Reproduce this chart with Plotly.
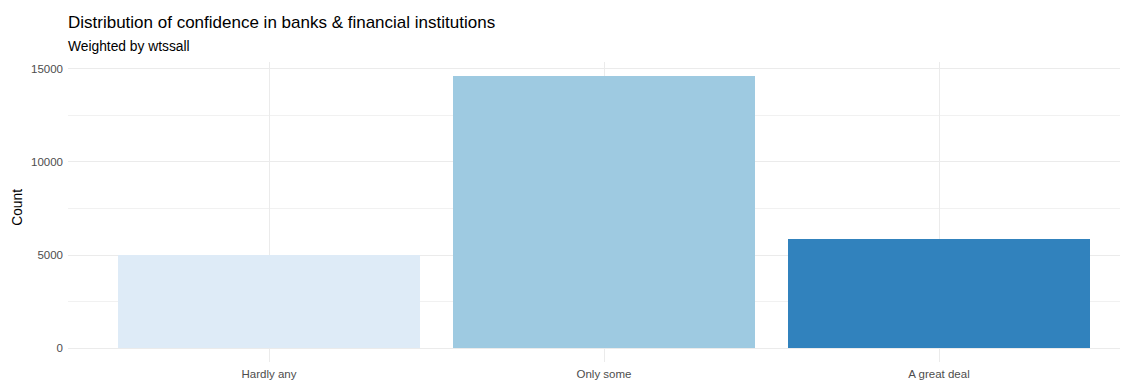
import plotly.graph_objects as go

categories = ["Hardly any", "Only some", "A great deal"]
counts = [4980, 14620, 5840]
colors = ["#DEEBF7", "#9ECAE1", "#3182BD"]
y_ticks = [0, 5000, 10000, 15000]

# page body has an 8px margin; figure sized to fill the rest of the window
W, H = 1120, 373
ML, MR, MT, MB = 60, 0, 54.4, 19.4
PW = W - ML - MR
PH = H - MT - MB

ymax = max(counts)
pad = 0.05 * ymax
y_range = [-pad, ymax + pad]

fig = go.Figure()
fig.add_trace(go.Bar(
    x=[1, 2, 3], y=counts, width=0.9,
    marker=dict(color=colors, line=dict(width=0)),
    hoverinfo="x+y", showlegend=False,
))

font_family = "Liberation Sans, Arial, sans-serif"

fig.update_layout(
    width=W, height=H,
    margin=dict(l=ML, r=MR, t=MT, b=MB),
    paper_bgcolor="white", plot_bgcolor="white",
    font=dict(family=font_family, color="#4D4D4D"),
    bargap=0,
    title=dict(
        text="Distribution of confidence in banks & financial institutions",
        x=ML / W, xanchor="left", xref="container",
        y=1 - 13.7 / H, yanchor="middle", yref="container",
        font=dict(size=17, color="black", family=font_family),
    ),
    annotations=[
        dict(text="Weighted by wtssall", xref="paper", yref="paper",
             x=-2 / PW, y=1 + (MT - 39) / PH, xanchor="left", yanchor="middle",
             showarrow=False, font=dict(size=13.8, color="black", family=font_family)),
        dict(text="Count", xref="paper", yref="paper",
             x=-(ML - 9.8) / PW, y=0.5 + 5 / PH, xanchor="center", yanchor="middle",
             textangle=-90, showarrow=False,
             font=dict(size=13.8, color="black", family=font_family)),
    ],
    xaxis=dict(
        range=[0.4, 0.4 + PW / 335.0],
        tickvals=[1, 2, 3], ticktext=categories,
        showgrid=True, gridcolor="#EBEBEB", gridwidth=1.3,
        zeroline=False, showline=False, ticks="",
        tickfont=dict(size=11.5, color="#4D4D4D"),
        ticklabelstandoff=3,
    ),
    yaxis=dict(
        range=y_range,
        tickvals=y_ticks, ticktext=[str(v) for v in y_ticks],
        showgrid=True, gridcolor="#EBEBEB", gridwidth=1.3,
        minor=dict(dtick=2500, tick0=0, showgrid=True, gridcolor="#F1F1F1", gridwidth=0.7),
        zeroline=False, showline=False, ticks="",
        tickfont=dict(size=11.5, color="#4D4D4D"),
        ticklabelstandoff=4,
    ),
)

fig.write_html("out.html")
